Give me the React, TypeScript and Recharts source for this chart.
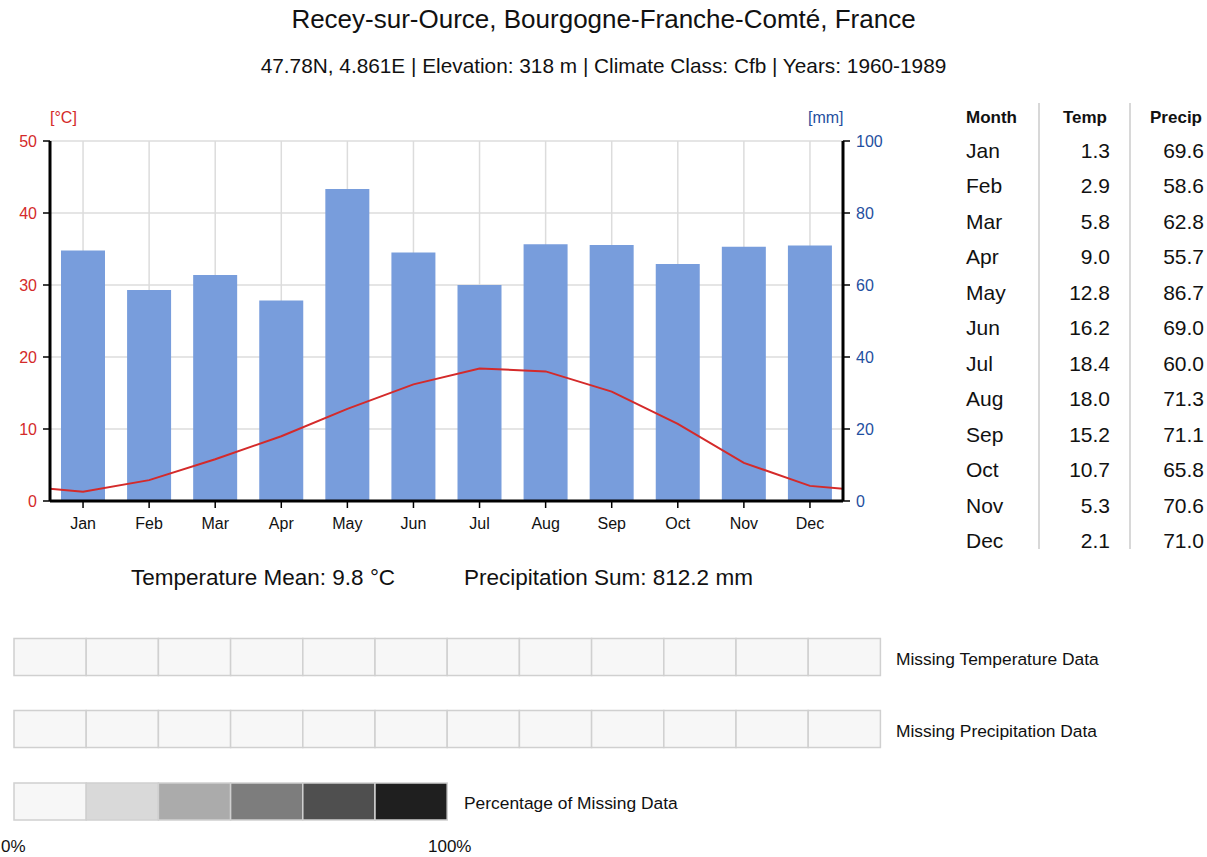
import { ComposedChart, Bar, Line, XAxis, YAxis, CartesianGrid } from 'recharts';

const months = ['Jan', 'Feb', 'Mar', 'Apr', 'May', 'Jun', 'Jul', 'Aug', 'Sep', 'Oct', 'Nov', 'Dec'];
const temp = [1.3, 2.9, 5.8, 9.0, 12.8, 16.2, 18.4, 18.0, 15.2, 10.7, 5.3, 2.1];
const precip = [69.6, 58.6, 62.8, 55.7, 86.7, 69.0, 60.0, 71.3, 71.1, 65.8, 70.6, 71.0];
// temperature where the curve meets the plot edges
const edgeTemp = 1.7;
const tempTicks = [0, 10, 20, 30, 40, 50];
const precipTicks = [0, 20, 40, 60, 80, 100];
const missingShades = ['#f7f7f7', '#d9d9d9', '#ababab', '#7d7d7d', '#4f4f4f', '#1f1f1f'];

const FONT = "'Liberation Sans', Arial, sans-serif";
const RED = '#d42a2a';
const BLUE = '#1f4fa0';

const barData = months.map((m, i) => ({ x: i + 1, month: m, precip: precip[i] }));
const lineData = [
    { x: 0.5, temp: edgeTemp },
    ...months.map((m, i) => ({ x: i + 1, temp: temp[i] })),
    { x: 12.5, temp: edgeTemp },
];

const MissingRow = ({ y, cells, fills }: { y: number; cells: number; fills?: string[] }) => (
    <>
        {Array.from({ length: cells }).map((_, i) => (
            <rect key={i} x={14 + i * 72.2} y={y} width={72.2} height={37}
                fill={fills ? fills[i] : '#f7f7f7'} stroke="#d0d0d0" strokeWidth={1.5} />
        ))}
    </>
);

export default function App() {
    return (
        <div style={{ position: 'absolute', left: 0, top: 0, width: 1207, height: 857, background: '#fff', fontFamily: FONT, color: '#111', overflow: 'hidden' }}>
            <div style={{ position: 'absolute', top: 4, width: 1207, textAlign: 'center', fontSize: 26 }}>
                Recey-sur-Ource, Bourgogne-Franche-Comté, France
            </div>
            <div style={{ position: 'absolute', top: 54, width: 1207, textAlign: 'center', fontSize: 20.8 }}>
                47.78N, 4.861E | Elevation: 318 m | Climate Class: Cfb | Years: 1960-1989
            </div>

            <div style={{ position: 'absolute', left: 50, top: 109, fontSize: 16, color: RED }}>[°C]</div>
            <div style={{ position: 'absolute', left: 808, top: 109, fontSize: 16, color: BLUE }}>[mm]</div>

            <div style={{ position: 'absolute', left: 0, top: 0 }}>
                <ComposedChart width={900} height={561} data={barData}
                    margin={{ top: 141, right: 0, bottom: 30, left: 0 }}>
                    <CartesianGrid stroke="#dcdcdc" strokeWidth={1.5} yAxisId="t" />
                    <XAxis dataKey="x" type="number" domain={[0.5, 12.5]} allowDataOverflow
                        ticks={months.map((_, i) => i + 1)} tickFormatter={(v: number) => months[v - 1]}
                        height={30} stroke="#000" axisLine={{ stroke: '#000', strokeWidth: 3 }}
                        tickLine={{ stroke: '#000', strokeWidth: 1.5 }} tickSize={7} tickMargin={10}
                        tick={{ fill: '#111', fontSize: 16, fontFamily: FONT }} />
                    <XAxis xAxisId="line" dataKey="x" type="number" domain={[0.5, 12.5]} allowDataOverflow hide />
                    <YAxis yAxisId="t" orientation="left" domain={[0, 50]} ticks={tempTicks} width={50}
                        axisLine={{ stroke: '#000', strokeWidth: 3 }} tickLine={{ stroke: '#000', strokeWidth: 1.5 }}
                        tickSize={7} tickMargin={6} tick={{ fill: RED, fontSize: 16, fontFamily: FONT }} />
                    <YAxis yAxisId="p" orientation="right" domain={[0, 100]} ticks={precipTicks} width={57}
                        axisLine={{ stroke: '#000', strokeWidth: 3 }} tickLine={{ stroke: '#000', strokeWidth: 1.5 }}
                        tickSize={7} tickMargin={6} tick={{ fill: BLUE, fontSize: 16, fontFamily: FONT }} />
                    <Bar yAxisId="p" dataKey="precip" fill="#789ddc" barSize={44} isAnimationActive={false} />
                    <Line xAxisId="line" yAxisId="t" data={lineData} dataKey="temp" type="linear" stroke={RED} strokeWidth={2}
                        dot={false} isAnimationActive={false} />
                </ComposedChart>
            </div>

            {/* table */}
            <div style={{ position: 'absolute', left: 1038, top: 103, width: 1.5, height: 446, background: '#d8d8d8' }} />
            <div style={{ position: 'absolute', left: 1129, top: 103, width: 1.5, height: 446, background: '#d8d8d8' }} />
            <div style={{ position: 'absolute', left: 966, top: 108, fontSize: 17, fontWeight: 'bold' }}>Month</div>
            <div style={{ position: 'absolute', left: 1040, width: 67, top: 108, fontSize: 17, fontWeight: 'bold', textAlign: 'right' }}>Temp</div>
            <div style={{ position: 'absolute', left: 1130, width: 72, top: 108, fontSize: 17, fontWeight: 'bold', textAlign: 'right' }}>Precip</div>
            {months.map((m, i) => (
                <div key={m}>
                    <div style={{ position: 'absolute', left: 966, top: 139 + i * 35.45, fontSize: 21 }}>{m}</div>
                    <div style={{ position: 'absolute', left: 1040, width: 70, top: 139 + i * 35.45, fontSize: 21, textAlign: 'right' }}>{temp[i].toFixed(1)}</div>
                    <div style={{ position: 'absolute', left: 1130, width: 74, top: 139 + i * 35.45, fontSize: 21, textAlign: 'right' }}>{precip[i].toFixed(1)}</div>
                </div>
            ))}

            <div style={{ position: 'absolute', left: 131, top: 565, fontSize: 22.5 }}>Temperature Mean: 9.8 °C</div>
            <div style={{ position: 'absolute', left: 464, top: 565, fontSize: 22.5 }}>Precipitation Sum: 812.2 mm</div>

            <svg width={1207} height={857} style={{ position: 'absolute', left: 0, top: 0, pointerEvents: 'none' }}>
                <MissingRow y={638.5} cells={12} />
                <MissingRow y={710.5} cells={12} />
                <MissingRow y={783} cells={6} fills={missingShades} />
                <text x={896} y={665} fontSize={17.4} fontFamily={FONT} fill="#111">Missing Temperature Data</text>
                <text x={896} y={737} fontSize={17.4} fontFamily={FONT} fill="#111">Missing Precipitation Data</text>
                <text x={464} y={809} fontSize={17.4} fontFamily={FONT} fill="#111">Percentage of Missing Data</text>
                <text x={1} y={852} fontSize={17} fontFamily={FONT} fill="#111">0%</text>
                <text x={428} y={852} fontSize={17} fontFamily={FONT} fill="#111">100%</text>
            </svg>
        </div>
    );
}
